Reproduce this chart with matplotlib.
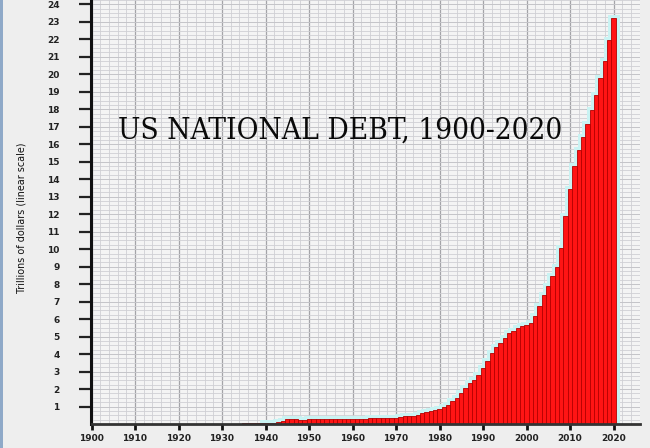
import numpy as np
import matplotlib
matplotlib.use("Agg")
import matplotlib.pyplot as plt
from matplotlib import font_manager as fm
from matplotlib.patches import Rectangle

# ---------------- data ----------------
years = list(range(1900, 2021))
debt_trillions = (
    [0.0012] * 17 +                                   # 1900-1916
    [0.003, 0.012, 0.025] +                           # 1917-1919
    [0.024, 0.024, 0.023, 0.022, 0.021, 0.020, 0.020, 0.019, 0.018, 0.017] +  # 1920s
    [0.016, 0.017, 0.019, 0.023, 0.027, 0.029, 0.034, 0.036, 0.037, 0.040] +  # 1930s
    [0.043, 0.05, 0.08, 0.14, 0.20, 0.26, 0.27, 0.26, 0.25, 0.25] +           # 1940s
    [0.26, 0.26, 0.26, 0.27, 0.27, 0.27, 0.27, 0.27, 0.28, 0.29] +            # 1950s
    [0.29, 0.29, 0.30, 0.31, 0.32, 0.32, 0.33, 0.34, 0.35, 0.35] +            # 1960s
    [0.37, 0.40, 0.43, 0.46, 0.48, 0.53, 0.62, 0.70, 0.77, 0.81] +            # 1970s
    [0.88, 0.97, 1.10, 1.31, 1.50, 1.76, 2.05, 2.33, 2.52, 2.80] +            # 1980s
    [3.20, 3.60, 4.05, 4.40, 4.65, 4.93, 5.20, 5.32, 5.48, 5.60] +            # 1990s
    [5.66, 5.80, 6.17, 6.74, 7.37, 7.90, 8.46, 9.00, 10.04, 11.90] +          # 2000s
    [13.45, 14.74, 15.66, 16.40, 17.14, 17.94, 18.80, 19.77, 20.74, 21.94, 23.20]  # 2010-2020
)
x_tick_years = list(range(1900, 2021, 10))
y_tick_values = list(range(1, 25))
title_text = "US NATIONAL DEBT, 1900-2020"
ylabel_text = "Trillions of dollars (linear scale)"

# ---------------- fonts ----------------
entries = fm.fontManager.ttflist
def pick_condensed(keyword, fallback):
    for e in entries:
        if keyword in e.name and str(e.stretch) in ("condensed", "semi-condensed", "extra-condensed"):
            return e.name, e.stretch
    return fallback, "normal"

serif_family, serif_stretch = pick_condensed("Serif", "Liberation Serif")
sans_family, sans_stretch = pick_condensed("Sans", "Liberation Sans")

# ---------------- figure ----------------
W, H = 650, 448
fig = plt.figure(figsize=(W / 100, H / 100), dpi=100)
fig.patch.set_facecolor("#eeeeee")

# left blue edge strip and light right margin
fig.patches.append(Rectangle((0, 0), 3 / W, 1, transform=fig.transFigure,
                             facecolor="#8fa9c8", edgecolor="none", zorder=0))

left_px, right_px, bottom_px = 91.5, 640, 424
ax = fig.add_axes([left_px / W, (H - bottom_px) / H, (right_px - left_px) / W, bottom_px / H])
ax.set_facecolor("#f4f4f4")

px_per_year = 4.35
x0 = 1900
ax.set_xlim(x0, x0 + (right_px - left_px) / px_per_year)
ax.set_ylim(0, 24 + 4.3 / 17.5)

# grid
ax.set_xticks(x_tick_years)
ax.set_xticks(np.arange(1900, 2027, 2), minor=True)
ax.set_yticks(y_tick_values)
ax.set_yticks(np.arange(0, 24.3, 0.25), minor=True)
ax.grid(which="minor", axis="both", color="#d0d0d4", linewidth=0.6, zorder=0)
ax.grid(which="major", axis="y", color="#c4c4c8", linewidth=0.7, zorder=0)
ax.grid(which="major", axis="x", color="#a4a4a8", linewidth=0.9, zorder=0)
ax.set_axisbelow(True)

# cyan halo around bars (from 1940 on)
start = years.index(1940)
edges = np.arange(years[start] - 0.5, years[-1] + 1.0, 1.0)
ax.stairs(debt_trillions[start:], edges, baseline=0, color="#c9f3f3",
          linewidth=5, zorder=2)

# bars
ax.bar(years, debt_trillions, width=1.0, color="#ff1414", edgecolor="#b40000",
       linewidth=0.6, zorder=3)

# spines
for s in ("top", "right"):
    ax.spines[s].set_visible(False)
ax.spines["left"].set_linewidth(2.2)
ax.spines["left"].set_color("#111111")
ax.spines["bottom"].set_linewidth(2.0)
ax.spines["bottom"].set_color("#333333")
ax.spines["left"].set_zorder(5)
ax.spines["bottom"].set_zorder(5)

# ticks
ax.tick_params(axis="y", which="major", direction="out", length=9, width=1.6,
               color="#222222", pad=14, labelsize=6.5, labelcolor="#222222")
ax.tick_params(axis="x", which="major", direction="out", length=4, width=2.0,
               color="#111111", pad=3, labelsize=6.5, labelcolor="#222222")
ax.tick_params(which="minor", length=0)
for lab in ax.get_xticklabels() + ax.get_yticklabels():
    lab.set_fontweight("bold")
    lab.set_family("DejaVu Sans")

# y label
yl = fig.text(22 / W, 1 - 218 / H, ylabel_text, rotation=90, ha="center", va="center",
              family=sans_family, fontstretch=sans_stretch, fontsize=8, color="#111111")

# title
tt = fig.text(340 / W, 1 - 150 / H, title_text, ha="center", va="baseline",
              family=serif_family, fontstretch=serif_stretch, fontsize=30, color="#0a0a0a")

fig.canvas.draw()
r = fig.canvas.get_renderer()
# fit title width to ~445 px
bb = tt.get_window_extent(r)
tt.set_fontsize(30 * 445 / bb.width)
# fit y label length to ~150 px
bb = yl.get_window_extent(r)
yl.set_fontsize(8 * 150 / bb.height)
# center title caps vertically around y=128 px from top
fs_px = tt.get_fontsize() * 100 / 72
cap_h = 0.70 * fs_px
tt.set_y(1 - (128 + cap_h / 2) / H)

fig.savefig("out.png", dpi=100, facecolor=fig.get_facecolor())
